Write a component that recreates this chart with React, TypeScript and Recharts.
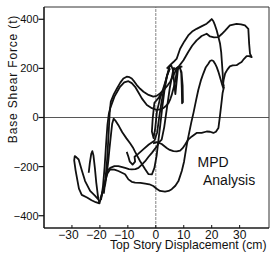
import React from 'react';
import { LineChart, Line, XAxis, YAxis, ReferenceLine, ReferenceArea } from 'recharts';

const xTicks = [-30, -20, -10, 0, 10, 20, 30];
const yTicks = [-400, -200, 0, 200, 400];

const leftLoops: [number, number][] = [
  [-24, -225], [-23.6, -185], [-23.1, -148], [-22.7, -137], [-22.3, -155], [-21.8, -205], [-21.3, -265],
  [-20.7, -320], [-20.2, -350], [-21.5, -345], [-23, -337], [-24.6, -326], [-26.5, -315], [-27.5, -290],
  [-28, -259], [-28.7, -215], [-29.2, -175], [-29, -157], [-28.4, -162], [-27.6, -171], [-26.4, -218],
  [-25.3, -259], [-23.5, -299], [-21.7, -319], [-20.1, -340],
];

const mainRise: [number, number][] = [
  [-20.2, -350], [-19.5, -325], [-18.8, -295], [-18.1, -272], [-17.5, -225], [-17, -178], [-16.6, -130],
  [-16.3, -97], [-15.9, -55], [-15.6, -25], [-15.1, -5], [-14.3, -15], [-13.2, -35], [-12, -60],
  [-10.5, -85], [-9.2, -105], [-8.2, -122], [-7.4, -140], [-5.6, -178], [-3.8, -211], [-2.6, -231],
  [-1.4, -232], [-0.5, -205], [0.3, -155], [0.9, -97], [1.6, -30], [2.3, 40], [3.1, 110], [4, 170],
  [4.8, 205], [5.5, 212], [6.1, 195], [6.6, 140], [7, 95], [7.4, 140], [7.9, 195], [8.6, 208],
  [9.1, 180], [9.3, 120], [9.4, 58], [9.7, 62], [9.6, 130], [9.2, 185], [8.5, 205],
];

const hump1: [number, number][] = [
  [-18.6, -310], [-18, -250], [-17.4, -170], [-16.9, -70], [-16.5, 20], [-16.1, 65], [-15, 95],
  [-13.9, 118], [-12.7, 142], [-11.6, 159], [-10.4, 166], [-9.4, 164], [-8.6, 159], [-7.6, 145],
  [-6.8, 132], [-5.6, 117], [-4.4, 105], [-2.6, 92], [-0.9, 85], [0.3, 88], [1.5, 98], [3.3, 118],
  [4.3, 132], [5.1, 145], [6, 165], [6.9, 186], [7.8, 205], [8.7, 205], [9.5, 208],
];

const hump2: [number, number][] = [
  [-19.6, -335], [-18.9, -280], [-18.3, -200], [-17.8, -110], [-17.3, -30], [-16.8, 15], [-16.3, 38],
  [-14.8, 85], [-12.8, 125], [-11.3, 143], [-9.8, 148], [-8.6, 140], [-7.4, 125], [-6.2, 102],
  [-5, 78], [-3.2, 51], [-1.4, 38], [0.36, 31], [1.5, 33], [2.7, 38], [3.7, 48], [4.5, 58],
  [5.2, 75], [5.7, 92], [6.3, 118], [6.9, 145], [7.4, 180], [7.8, 205],
];

const lowLoop: [number, number][] = [
  [-19.8, -330], [-19, -300], [-18.2, -262], [-17.3, -228], [-16.3, -211], [-14.8, -212], [-13.4, -218],
  [-11, -231], [-9.8, -252], [-8.6, -262], [-7.4, -265], [-5.5, -266], [-3.8, -269], [-2.3, -272],
  [-0.9, -279], [0.3, -290], [1.5, -299], [3.3, -302], [4.6, -299], [5.7, -292], [7, -278],
  [8.1, -259], [9.3, -218], [10.1, -180], [10.5, -151], [11.1, -110], [11.8, -70], [12.7, -20],
  [13.5, 20], [14.4, 70], [15.2, 112], [16.1, 150], [17, 179], [17.9, 205], [18.8, 219], [19.4, 230],
  [20, 233], [20.6, 230], [21.2, 219], [21.8, 205], [22.4, 186], [23, 163], [23.6, 139], [24.2, 118],
];

const midLow: [number, number][] = [
  [-18, -245], [-17.2, -215], [-16.3, -205], [-14.8, -198], [-13.4, -198], [-12, -202], [-11, -205],
  [-9.6, -210], [-8.6, -211], [-7.3, -210], [-6.2, -205], [-5, -192], [-3.8, -178], [-2.6, -160],
  [-1.4, -144], [0.4, -117], [1.2, -100], [2.1, -90], [3, -40], [4, 40], [5, 120], [6, 180], [6.6, 205],
];

const hookLine: [number, number][] = [
  [-10.4, -140], [-9.8, -160], [-9.3, -180], [-8.3, -192], [-7.4, -180], [-7.6, -160], [-6.5, -150],
  [-4.5, -130], [-2.5, -110], [-0.5, -95], [0.5, -60], [1.2, 0], [2, 60], [3, 120], [4, 170], [5, 200],
];

const vLoop: [number, number][] = [
  [2.5, 110], [1, 80], [-0.5, 60], [-1.1, -3], [-1.4, -57], [-0.8, -84], [-0.2, -43], [0.4, 24],
  [1.5, 77], [3, 130], [4.2, 175], [5, 200],
];

const top400: [number, number][] = [
  [3.9, 199], [5.1, 213], [6.3, 226], [7.5, 240], [8.7, 280], [10.2, 310], [11.6, 334], [13, 350],
  [14.6, 361], [16.5, 372], [18.2, 382], [19.2, 392], [20, 401], [20.6, 392], [21.2, 375], [21.8, 354],
  [22.4, 328], [23, 300], [23.4, 265], [23.6, 233], [23.9, 185], [24.1, 139], [24.4, 125],
];

const descLoop: [number, number][] = [
  [24.4, 125], [23.9, 100], [23.6, 70], [23, 11], [22.4, -43], [21.5, -58], [20.6, -63], [19.4, -58],
  [18.2, -57], [16.4, -63], [14.6, -63], [12.9, -77], [11.6, -90], [10.5, -110], [9.6, -125],
  [8.7, -135], [7.5, -138], [6.3, -137], [5, -132], [3.9, -124], [2.1, -108], [0.4, -100], [-1, -105],
];

const wavy: [number, number][] = [
  [6.3, 193], [8.1, 206], [9.9, 233], [11.6, 267], [13, 292], [14.6, 314], [16.4, 332], [18.2, 341],
  [19.4, 330], [20.8, 326], [22.4, 327], [23.6, 340], [24.8, 354], [26.5, 375], [28.9, 381],
  [30.5, 379], [31.9, 375], [33.1, 361], [33.4, 300], [33.7, 260], [34.3, 246], [33.4, 250],
  [32.5, 250], [31.5, 238], [30.7, 226], [29.8, 220], [28.9, 213], [27.5, 212], [26.5, 208],
  [25.6, 195], [24.8, 179], [24.3, 155], [24.1, 139],
];

const strands = [leftLoops, mainRise, hump1, hump2, lowLoop, midLow, hookLine, vLoop, top400, descLoop, wavy];

const toPts = (a: [number, number][]) => a.map(([x, y]) => ({ x, y }));
const FONT = '"Liberation Sans", Arial, sans-serif';
const fmt = (v: number) => (v < 0 ? '\u2212' + Math.abs(v) : String(v));

const XTick = (props: any) => {
  const { x, payload } = props;
  const v = payload.value;
  return (
    <g>
      <line x1={x} x2={x} y1={228} y2={225} stroke="#111" strokeWidth={1} />
      <text x={x + (v < 0 ? -3.5 : 0)} y={238.5} textAnchor="middle" fontSize={12} fontFamily={FONT} fill="#111">
        {fmt(v)}
      </text>
    </g>
  );
};

const YTick = (props: any) => {
  const { y, payload } = props;
  return (
    <text x={38.5} y={y} dy="0.36em" textAnchor="end" fontSize={11} fontFamily={FONT} fill="#111">
      {fmt(payload.value)}
    </text>
  );
};

export default function App() {
  return (
    <div style={{ position: 'absolute', left: 0, top: 0, width: 276, height: 258, background: '#fff' }}>
      <LineChart width={276} height={258} margin={{ top: 7, right: 7, left: 0, bottom: 0 }}>
        <XAxis
          type="number"
          dataKey="x"
          domain={[-40, 40.5]}
          ticks={xTicks}
          allowDataOverflow
          height={30}
          tickLine={false}
          axisLine={{ stroke: '#111', strokeWidth: 1.2 }}
          tick={<XTick />}
          interval={0}
        />
        <YAxis
          type="number"
          dataKey="y"
          domain={[-450, 450]}
          ticks={yTicks}
          allowDataOverflow
          width={44}
          tickSize={5.5}
          tickLine={{ stroke: '#111', strokeWidth: 1.2 }}
          axisLine={{ stroke: '#111', strokeWidth: 1.2 }}
          tick={<YTick />}
          interval={0}
        />
        <ReferenceArea x1={-40} x2={40.5} y1={-450} y2={450} fill="none" stroke="#333" strokeWidth={1} />
        <ReferenceLine x={0} stroke="#666" strokeWidth={0.8} strokeDasharray="3 1" />
        <ReferenceLine y={0} stroke="#444" strokeWidth={0.9} />
        {strands.map((s, i) => (
          <Line
            key={i}
            data={toPts(s)}
            dataKey="y"
            type="linear"
            dot={false}
            activeDot={false}
            stroke="#111"
            strokeWidth={1.8}
            strokeLinejoin="round"
            isAnimationActive={false}
          />
        ))}
      </LineChart>
      <svg width={276} height={258} style={{ position: 'absolute', left: 0, top: 0, pointerEvents: 'none' }}>
        <text
          x={16.5}
          y={79}
          transform="rotate(-90 16.5 79)"
          textAnchor="middle"
          fontSize={12}
          letterSpacing={0.85}
          fontFamily={FONT}
          fill="#111"
        >
          Base Shear Force (t)
        </text>
        <text x={110} y={249} fontSize={12.2} fontFamily={FONT} fill="#111">
          Top Story Displacement (cm)
        </text>
        <text x={197.5} y={167} fontSize={14} fontFamily={FONT} fill="#111">
          MPD
        </text>
        <text x={203} y={185} fontSize={14} fontFamily={FONT} fill="#111">
          Analysis
        </text>
      </svg>
    </div>
  );
}
